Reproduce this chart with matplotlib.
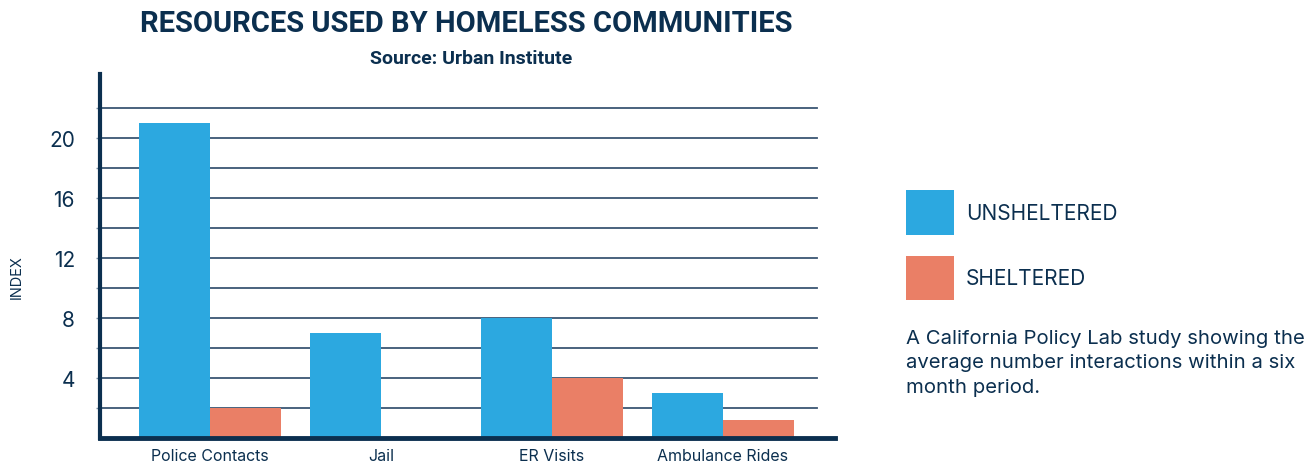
import matplotlib
matplotlib.use("Agg")
import matplotlib.pyplot as plt
import numpy as np

categories = ["Police Contacts", "Jail", "ER Visits", "Ambulance Rides"]
unsheltered = [21, 7, 8, 3]
sheltered = [2, 0, 4, 1.2]
series_names = ["UNSHELTERED", "SHELTERED"]
y_ticks = [2, 4, 6, 8, 10, 12, 14, 16, 18, 20, 22]

navy = "#0b2f4f"
blue = "#2ca8e0"
salmon = "#ea7f66"
grid_col = "#3a5673"

plt.rcParams['font.family'] = ['Inter', 'DejaVu Sans']

W, H = 1316, 464
fig = plt.figure(figsize=(W / 100, H / 100), dpi=100)
ax = fig.add_axes([100 / W, 1 - 439 / H, 735 / W, 364 / H])

x = np.arange(len(categories))
bw = 0.415
b1 = ax.bar(x - bw / 2, unsheltered, bw, color=blue, zorder=3, label=series_names[0])
b2 = ax.bar(x + bw / 2, sheltered, bw, color=salmon, zorder=3, label=series_names[1])

ax.set_xlim(-0.643, 3.655)
ax.set_ylim(0, 24.27)

# gridlines stop short of the axis end
for v in y_ticks:
    ax.axhline(v, xmin=0, xmax=(817 - 100) / 735, color=grid_col, lw=1.3, zorder=1)

ax.set_yticks(y_ticks)
ax.set_yticklabels([str(v) if v % 4 == 0 and v <= 20 else "" for v in y_ticks])
ax.tick_params(axis='y', length=3, width=1, color="#7f93a6", pad=15,
               labelsize=15, labelcolor=navy)
ax.set_xticks(x)
ax.set_xticklabels(categories)
ax.tick_params(axis='x', length=0, pad=7.5, labelsize=11.5, labelcolor=navy)

for s in ["top", "right"]:
    ax.spines[s].set_visible(False)
ax.spines["left"].set_color(navy)
ax.spines["left"].set_linewidth(3)
ax.spines["bottom"].set_color(navy)
ax.spines["bottom"].set_linewidth(3.5)
ax.spines["left"].set_zorder(4)
ax.spines["bottom"].set_zorder(4)

fig.text(17 / W, 1 - 277 / H, "INDEX", rotation=90, ha='center', va='center',
         fontsize=10.5, color=navy)

fig.text(466 / W, 1 - 24 / H, "RESOURCES USED BY HOMELESS COMMUNITIES",
         ha='center', va='center', fontsize=21, fontweight='bold',
         color=navy, family=['Roboto', 'DejaVu Sans'])
fig.text(471 / W, 1 - 59 / H, "Source: Urban Institute", ha='center', va='center',
         fontsize=14, fontweight='bold', color=navy, family=['Roboto', 'DejaVu Sans'])

leg = fig.legend(handles=[b1, b2], loc='upper left',
                 bbox_to_anchor=(906 / W, 1 - 191 / H), frameon=False,
                 fontsize=15, handlelength=2.3, handleheight=2.93,
                 handletextpad=0.58, labelspacing=1.0, borderpad=0,
                 borderaxespad=0, labelcolor=navy)

fig.text(906 / W, 1 - 330 / H,
         "A California Policy Lab study showing the\naverage number interactions within a six\nmonth period.",
         ha='left', va='top', fontsize=14.6, color=navy, linespacing=1.45)

fig.savefig("out.png", dpi=100)
